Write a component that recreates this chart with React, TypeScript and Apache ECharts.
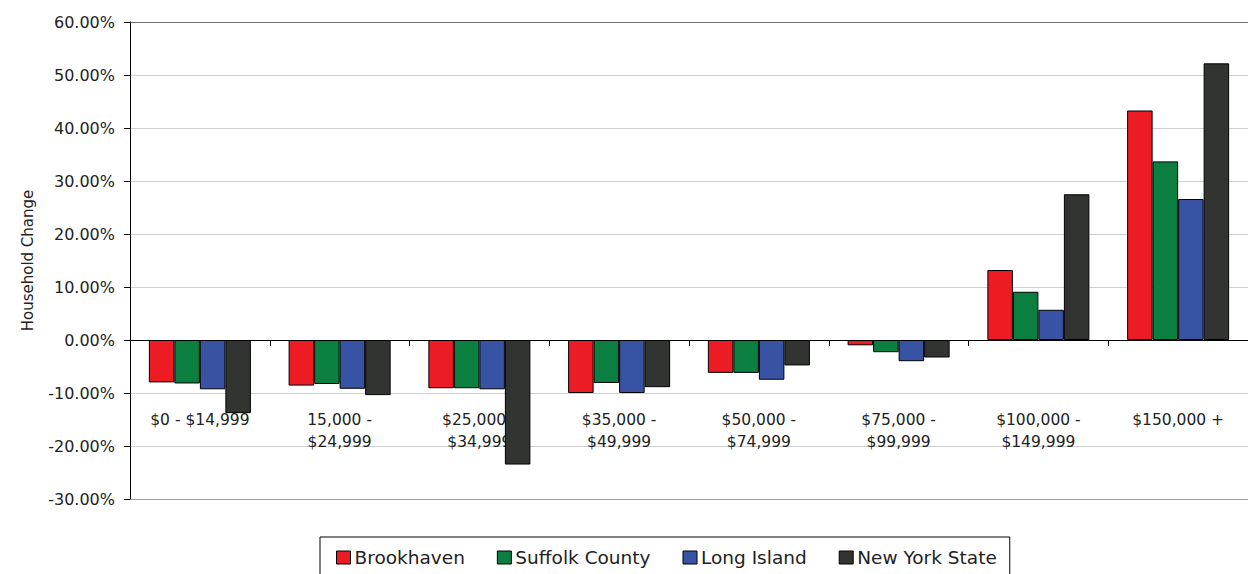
import React, { useEffect, useRef } from "react";
import * as echarts from "echarts";

const categories = [
  "$0 - $14,999",
  "15,000 -\n$24,999",
  "$25,000 -\n$34,999",
  "$35,000 -\n$49,999",
  "$50,000 -\n$74,999",
  "$75,000 -\n$99,999",
  "$100,000 -\n$149,999",
  "$150,000 +",
];
const seriesNames = ["Brookhaven", "Suffolk County", "Long Island", "New York State"];
const brookhaven = [-8.0, -8.6, -9.1, -10.0, -6.2, -1.0, 13.2, 43.3];
const suffolk = [-8.2, -8.3, -9.1, -8.1, -6.2, -2.3, 9.1, 33.7];
const longIsland = [-9.3, -9.2, -9.3, -10.0, -7.5, -4.0, 5.7, 26.6];
const nyState = [-13.8, -10.4, -23.5, -8.9, -4.8, -3.3, 27.5, 52.2];
const colors = ["#ed1c24", "#0b7f3f", "#3953a4", "#323432"];
const yTicks = { min: -30, max: 60, interval: 10 };

const FONT = "'DejaVu Sans', 'Noto Sans', sans-serif";

export default function App() {
  const ref = useRef<HTMLDivElement>(null);
  useEffect(() => {
    document.body.style.margin = "0";
    const chart = echarts.init(ref.current!, null, { renderer: "svg" });
    const data = [brookhaven, suffolk, longIsland, nyState];
    const splitColors = [
      "#a0a0a0", "#cfcfcf", "#cfcfcf", "#cfcfcf", "#cfcfcf",
      "#cfcfcf", "#cfcfcf", "#cfcfcf", "#cfcfcf", "#707070",
    ];
    chart.setOption({
      animation: false,
      textStyle: { fontFamily: FONT },
      grid: { left: 130, top: 22, width: 1118, height: 477, outerBoundsMode: "none", containLabel: false },
      legend: {
        data: seriesNames,
        left: 320,
        top: 537,
        padding: [11, 13, 12, 16],
        borderColor: "#000",
        borderWidth: 1,
        itemWidth: 14,
        itemHeight: 13,
        itemGap: 32,
        icon: "rect",
        itemStyle: { borderColor: "#000", borderWidth: 1 },
        textStyle: { fontSize: 18.5, color: "#222", fontFamily: FONT, padding: [0, 0, 0, -1] },
      },
      xAxis: {
        type: "category",
        data: categories,
        axisLine: { onZero: true, lineStyle: { color: "#000", width: 1 } },
        axisTick: { show: true, interval: 0, length: 6, inside: false, lineStyle: { color: "#000" } },
        axisLabel: {
          interval: 0,
          margin: -90,
          fontSize: 15.5,
          lineHeight: 22,
          color: "#222",
          fontFamily: FONT,
        },
      },
      yAxis: {
        type: "value",
        min: yTicks.min,
        max: yTicks.max,
        interval: yTicks.interval,
        name: "Household Change",
        nameLocation: "middle",
        nameGap: 95,
        nameTextStyle: { fontSize: 15, color: "#222", fontFamily: FONT },
        axisLine: { show: true, lineStyle: { color: "#000", width: 1 } },
        axisTick: { show: true, length: 6, lineStyle: { color: "#000" } },
        axisLabel: {
          formatter: (v: number) => v.toFixed(2) + "%",
          fontSize: 16,
          color: "#222",
          margin: 15,
          fontFamily: FONT,
        },
        splitLine: { show: true, lineStyle: { color: splitColors, width: 1 } },
      },
      series: seriesNames.map((name, i) => ({
        name,
        type: "bar",
        data: data[i],
        barGap: "0%",
        barCategoryGap: "27%",
        itemStyle: { color: colors[i], borderColor: "#000", borderWidth: 1 },
      })),
    });
    return () => chart.dispose();
  }, []);
  return <div ref={ref} style={{ width: 1248, height: 574 }} />;
}
